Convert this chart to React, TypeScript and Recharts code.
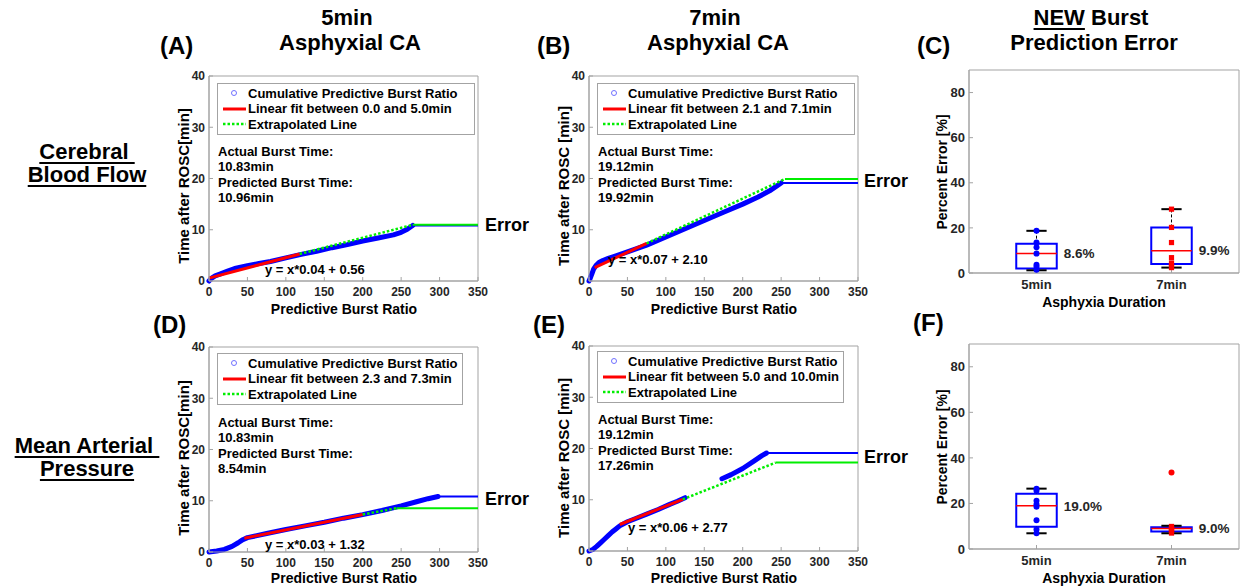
import React from 'react';
import {
  ComposedChart,
  Line,
  Scatter,
  XAxis,
  YAxis,
  ReferenceArea,
  ReferenceLine,
  ReferenceDot,
  Legend,
} from 'recharts';

const FONT = '"Liberation Sans", Arial, Helvetica, sans-serif';
const BLUE = '#0000ff';
const RED = '#ff0000';
const GREEN = '#00ee00';
const FRAME = '#a3a3a3';
const INK = '#262626';

type Pt = { x: number; y: number };
const zip = (xs: number[], ys: number[]): Pt[] => xs.map((x, i) => ({ x, y: ys[i] }));

const RATIO_MAX = 350;
const TIME_MAX = 40;
const ERROR_MAX = 90;
const ratioTicks = [0, 50, 100, 150, 200, 250, 300, 350];
const timeTicks = [0, 10, 20, 30, 40];
const errorTicks = [0, 20, 40, 60, 80];
const durations = ['5min', '7min'];

// (A) Cerebral blood flow, 5 min asphyxia
const aRatio = [0, 3, 8, 15, 25, 35, 50, 65, 80, 100, 120, 140, 160, 180, 200, 220, 240, 250, 258, 265];
const aTime = [0, 0.5, 1.0, 1.4, 2.0, 2.5, 3.0, 3.4, 3.8, 4.5, 5.2, 5.8, 6.5, 7.1, 7.8, 8.4, 9.0, 9.5, 10.1, 10.83];
const aFitRatio = [0, 118];
const aFitTime = [0.56, 5.28];
const aExtRatio = [118, 265];
const aExtTime = [5.28, 10.96];
const aActual = 10.83;
const aPredicted = 10.96;

// (B) Cerebral blood flow, 7 min asphyxia
const bRatio = [0, 2, 4, 6, 9, 13, 18, 25, 35, 50, 75, 100, 125, 150, 175, 200, 220, 235, 245, 250];
const bTime = [0, 0.7, 1.5, 2.3, 3.0, 3.6, 4.0, 4.4, 4.9, 5.7, 7.0, 8.6, 10.2, 11.8, 13.4, 15.0, 16.4, 17.6, 18.6, 19.12];
const bFitRatio = [7.4, 75];
const bFitTime = [2.62, 7.35];
const bExtRatio = [75, 255];
const bExtTime = [7.35, 19.92];
const bActual = 19.12;
const bPredicted = 19.92;

// (D) Mean arterial pressure, 5 min asphyxia
const dRatio = [0, 10, 20, 30, 38, 44, 50, 75, 100, 125, 150, 175, 200, 225, 250, 270, 285, 298];
const dTime = [0, 0.2, 0.5, 1.1, 1.8, 2.4, 2.8, 3.6, 4.4, 5.1, 5.8, 6.6, 7.3, 8.1, 9.0, 9.8, 10.4, 10.83];
const dFitRatio = [46, 200];
const dFitTime = [2.7, 7.32];
const dExtRatio = [200, 244];
const dExtTime = [7.32, 8.54];
const dActual = 10.83;
const dPredicted = 8.54;

// (E) Mean arterial pressure, 7 min asphyxia (two recorded stretches)
const eRatio1 = [0, 5, 10, 15, 20, 25, 30, 35, 40, 50, 60, 75, 90, 105, 115, 125];
const eTime1 = [0, 0.3, 0.9, 1.6, 2.3, 3.0, 3.7, 4.3, 4.9, 5.7, 6.3, 7.2, 8.1, 9.1, 9.7, 10.4];
const eRatio2 = [173, 185, 200, 215, 225, 231];
const eTime2 = [14.1, 14.9, 16.1, 17.6, 18.6, 19.12];
const eFitRatio = [40, 122];
const eFitTime = [5.17, 10.09];
const eExtRatio = [122, 243];
const eExtTime = [10.09, 17.26];
const eActual = 19.12;
const ePredicted = 17.26;

// (C) CBF prediction error, % per animal
const c5Errors = [18.7, 13.5, 11.4, 8.6, 3.7, 2.8, 1.4];
const c7Errors = [28.3, 20.2, 13.5, 6.8, 4.4, 3.4, 2.4];
// box stats: [lower whisker, q1, median, q3, upper whisker]
const c5Box = [1.2, 2.0, 8.6, 13.0, 18.7];
const c7Box = [2.4, 4.0, 9.9, 20.2, 28.3];

// (F) MAP prediction error, % per animal
const f5Errors = [26.5, 25.6, 21.2, 19.7, 18.6, 12.6, 8.6, 6.9];
const f7Errors = [9.9, 9.3, 9.0, 8.3, 7.6, 7.0];
const f7Outliers = [33.6];
const f5Box = [6.9, 9.8, 19.0, 24.3, 26.5];
const f7Box = [6.9, 7.7, 9.0, 9.6, 10.2];

type Rect = { l: number; t: number; r: number; b: number };

const tickStyle = { fill: INK, fontSize: 12, fontWeight: 700, fontFamily: FONT };

function FitLegend({ fitLabel, width }: { fitLabel: string; width: number }) {
  const row: React.CSSProperties = { display: 'flex', alignItems: 'center', height: 15.5, whiteSpace: 'nowrap' };
  return (
    <div
      style={{
        width,
        boxSizing: 'border-box',
        border: `1px solid ${FRAME}`,
        background: '#fff',
        padding: '1.5px 0',
        fontFamily: FONT,
        fontWeight: 700,
        fontSize: 13,
        color: '#000',
        lineHeight: '15px',
      }}
    >
      <div style={row}>
        <svg width={30} height={10} style={{ flex: 'none' }}>
          <circle cx={16} cy={5} r={2.5} fill="none" stroke="#7070ff" strokeWidth={1} />
        </svg>
        <span>Cumulative Predictive Burst Ratio</span>
      </div>
      <div style={row}>
        <svg width={30} height={10} style={{ flex: 'none' }}>
          <line x1={5} x2={28} y1={5} y2={5} stroke={RED} strokeWidth={3} />
        </svg>
        <span>{fitLabel}</span>
      </div>
      <div style={row}>
        <svg width={30} height={10} style={{ flex: 'none' }}>
          <line x1={5} x2={28} y1={5} y2={5} stroke={GREEN} strokeWidth={2.5} strokeDasharray="2.5 2" />
        </svg>
        <span>Extrapolated Line</span>
      </div>
    </div>
  );
}

type RatioPanelProps = {
  rect: Rect;
  segments: Pt[][];
  fit: Pt[];
  ext: Pt[];
  actual: number;
  predicted: number;
  fitLabel: string;
  legendRect: { l: number; t: number; w: number };
};

function RatioPanel({ rect, segments, fit, ext, actual, predicted, fitLabel, legendRect }: RatioPanelProps) {
  const M = { top: 15, right: 15, left: 30, bottom: 5 };
  const YW = 40;
  const XH = 30;
  const plotW = rect.r - rect.l;
  const plotH = rect.b - rect.t;
  const w = M.left + YW + plotW + M.right;
  const h = M.top + plotH + XH + M.bottom;
  const left = rect.l - M.left - YW;
  const top = rect.t - M.top;
  const lastSeg = segments[segments.length - 1];
  const actualFlat = [{ x: lastSeg[lastSeg.length - 1].x, y: actual }, { x: RATIO_MAX, y: actual }];
  const predFlat = [{ x: ext[ext.length - 1].x, y: predicted }, { x: RATIO_MAX, y: predicted }];
  return (
    <div style={{ position: 'absolute', left, top, width: w, height: h }}>
      <ComposedChart width={w} height={h} margin={M}>
        <XAxis
          type="number"
          dataKey="x"
          domain={[0, RATIO_MAX]}
          ticks={ratioTicks}
          interval={0}
          height={XH}
          tickSize={-4}
          tickMargin={10}
          stroke={FRAME}
          tick={tickStyle}
        />
        <YAxis
          type="number"
          dataKey="y"
          domain={[0, TIME_MAX]}
          ticks={timeTicks}
          interval={0}
          width={YW}
          tickSize={-4}
          tickMargin={8}
          stroke={FRAME}
          tick={tickStyle}
        />
        <ReferenceArea x1={0} x2={RATIO_MAX} y1={0} y2={TIME_MAX} fill="none" stroke={FRAME} strokeWidth={1} />
        {segments.map((seg, i) => (
          <Line
            key={`seg${i}`}
            data={seg}
            dataKey="y"
            type="linear"
            stroke={BLUE}
            strokeWidth={5}
            strokeLinecap="round"
            strokeLinejoin="round"
            dot={false}
            activeDot={false}
            isAnimationActive={false}
          />
        ))}
        <Line data={actualFlat} dataKey="y" type="linear" stroke={BLUE} strokeWidth={2} dot={false} activeDot={false} isAnimationActive={false} />
        <Line data={predFlat} dataKey="y" type="linear" stroke={GREEN} strokeWidth={2} dot={false} activeDot={false} isAnimationActive={false} />
        <Line data={fit} dataKey="y" type="linear" stroke={RED} strokeWidth={3} dot={false} activeDot={false} isAnimationActive={false} />
        <Line
          data={ext}
          dataKey="y"
          type="linear"
          stroke={GREEN}
          strokeWidth={2.5}
          strokeDasharray="2.5 2"
          dot={false}
          activeDot={false}
          isAnimationActive={false}
        />
        <Legend
          layout="horizontal"
          align="center"
          verticalAlign="middle"
          wrapperStyle={{ left: legendRect.l - left, top: legendRect.t - top, width: legendRect.w, height: 'auto' }}
          content={() => <FitLegend fitLabel={fitLabel} width={legendRect.w} />}
        />
      </ComposedChart>
    </div>
  );
}

type ErrorPanelProps = {
  rect: Rect;
  boxes: number[][];
  errors: number[][];
  outliers: number[][];
};

const BOX_HALF = 0.15;
const CAP_HALF = 0.075;

function ErrorPanel({ rect, boxes, errors, outliers }: ErrorPanelProps) {
  const M = { top: 15, right: 10, left: 30, bottom: 5 };
  const YW = 40;
  const XH = 30;
  const plotW = rect.r - rect.l;
  const plotH = rect.b - rect.t;
  const w = M.left + YW + plotW + M.right;
  const h = M.top + plotH + XH + M.bottom;
  const left = rect.l - M.left - YW;
  const top = rect.t - M.top;
  const errTick = { ...tickStyle, fontSize: 13 };

  const parts: React.ReactNode[] = [];
  boxes.forEach((bx, i) => {
    const c = i + 1;
    const [lo, q1, med, q3, hi] = bx;
    parts.push(
      <ReferenceLine key={`wu${i}`} segment={[{ x: c, y: q3 }, { x: c, y: hi }]} stroke="#000" strokeWidth={1} strokeDasharray="3 2" />,
      <ReferenceLine key={`wl${i}`} segment={[{ x: c, y: lo }, { x: c, y: q1 }]} stroke="#000" strokeWidth={1} strokeDasharray="3 2" />,
      <ReferenceLine key={`cu${i}`} segment={[{ x: c - CAP_HALF, y: hi }, { x: c + CAP_HALF, y: hi }]} stroke="#000" strokeWidth={2} />,
      <ReferenceLine key={`cl${i}`} segment={[{ x: c - CAP_HALF, y: lo }, { x: c + CAP_HALF, y: lo }]} stroke="#000" strokeWidth={2} />,
      <ReferenceArea key={`bx${i}`} x1={c - BOX_HALF} x2={c + BOX_HALF} y1={q1} y2={q3} fill="none" fillOpacity={0} stroke={BLUE} strokeWidth={2} />,
      <ReferenceLine key={`md${i}`} segment={[{ x: c - BOX_HALF, y: med }, { x: c + BOX_HALF, y: med }]} stroke={RED} strokeWidth={1.5} />,
    );
  });

  const blueDot = (p: any) => <circle cx={p.cx} cy={p.cy} r={3} fill={BLUE} />;
  const redSquare = (p: any) => <rect x={p.cx - 2.6} y={p.cy - 2.6} width={5.2} height={5.2} fill={RED} />;
  const redDot = (p: any) => <circle cx={p.cx} cy={p.cy} r={3} fill={RED} />;

  return (
    <div style={{ position: 'absolute', left, top, width: w, height: h }}>
      <ComposedChart width={w} height={h} margin={M}>
        <XAxis
          type="number"
          dataKey="x"
          domain={[0.5, 2.5]}
          ticks={[1, 2]}
          interval={0}
          tickFormatter={(v: number) => durations[v - 1]}
          height={XH}
          tickSize={-4}
          tickMargin={11}
          stroke={FRAME}
          tick={errTick}
        />
        <YAxis
          type="number"
          dataKey="y"
          domain={[0, ERROR_MAX]}
          ticks={errorTicks}
          interval={0}
          width={YW}
          tickSize={-4}
          tickMargin={8}
          stroke={FRAME}
          tick={errTick}
        />
        <ReferenceArea x1={0.5} x2={2.5} y1={0} y2={ERROR_MAX} fill="none" fillOpacity={0} stroke={FRAME} strokeWidth={1} />
        {parts}
        <Scatter data={errors[0].map((y) => ({ x: 1, y }))} shape={blueDot} isAnimationActive={false} />
        <Scatter data={errors[1].map((y) => ({ x: 2, y }))} shape={redSquare} isAnimationActive={false} />
        {outliers[1].length > 0 && (
          <Scatter data={outliers[1].map((y) => ({ x: 2, y }))} shape={redDot} isAnimationActive={false} />
        )}
        {boxes.map((bx, i) => (
          <ReferenceDot
            key={`lab${i}`}
            x={i + 1 + BOX_HALF}
            y={bx[2]}
            r={0}
            stroke="none"
            fill="none"
            label={{
              value: `${bx[2].toFixed(1)}%`,
              position: 'right',
              offset: 7,
              fill: INK,
              fontSize: 13.5,
              fontWeight: 700,
              fontFamily: FONT,
            }}
          />
        ))}
      </ComposedChart>
    </div>
  );
}

type TextProps = {
  x: number;
  y: number;
  size: number;
  children: React.ReactNode;
  align?: 'center' | 'left';
  rotate?: boolean;
  underline?: boolean;
  color?: string;
};

function Txt({ x, y, size, children, align = 'center', rotate = false, underline = false, color = '#000' }: TextProps) {
  const tf = rotate
    ? 'translate(-50%, -50%) rotate(-90deg)'
    : align === 'center'
      ? 'translate(-50%, -50%)'
      : 'translateY(-50%)';
  return (
    <div
      style={{
        position: 'absolute',
        left: x,
        top: y,
        transform: tf,
        whiteSpace: 'pre',
        fontFamily: FONT,
        fontWeight: 700,
        fontSize: size,
        lineHeight: 1,
        color,
        textDecoration: underline ? 'underline' : 'none',
        textDecorationThickness: underline ? 2 : undefined,
        textUnderlineOffset: underline ? 3 : undefined,
      }}
    >
      {children}
    </div>
  );
}

function BurstNote({ x, y, actual, predicted }: { x: number; y: number; actual: number; predicted: number }) {
  const lines = ['Actual Burst Time:', `${actual.toFixed(2)}min`, 'Predicted Burst Time:', `${predicted.toFixed(2)}min`];
  return (
    <>
      {lines.map((s, i) => (
        <Txt key={i} x={x} y={y + i * 15.4} size={13} align="left">
          {s}
        </Txt>
      ))}
    </>
  );
}

const rectA: Rect = { l: 209, t: 76, r: 478, b: 281 };
const rectB: Rect = { l: 589, t: 76, r: 858, b: 281 };
const rectD: Rect = { l: 209, t: 347, r: 478, b: 552 };
const rectE: Rect = { l: 589, t: 346, r: 858, b: 551 };
const rectC: Rect = { l: 969, t: 70, r: 1239, b: 273 };
const rectF: Rect = { l: 969, t: 344, r: 1239, b: 549 };

export default function App() {
  return (
    <div
      style={{
        position: 'absolute',
        left: 0,
        top: 0,
        width: 1241,
        height: 588,
        background: '#fff',
        overflow: 'hidden',
        fontFamily: FONT,
      }}
    >
      <RatioPanel
        rect={rectA}
        segments={[zip(aRatio, aTime)]}
        fit={zip(aFitRatio, aFitTime)}
        ext={zip(aExtRatio, aExtTime)}
        actual={aActual}
        predicted={aPredicted}
        fitLabel="Linear fit between 0.0 and 5.0min"
        legendRect={{ l: 217, t: 83, w: 258 }}
      />
      <RatioPanel
        rect={rectB}
        segments={[zip(bRatio, bTime)]}
        fit={zip(bFitRatio, bFitTime)}
        ext={zip(bExtRatio, bExtTime)}
        actual={bActual}
        predicted={bPredicted}
        fitLabel="Linear fit between 2.1 and 7.1min"
        legendRect={{ l: 597, t: 83, w: 258 }}
      />
      <RatioPanel
        rect={rectD}
        segments={[zip(dRatio, dTime)]}
        fit={zip(dFitRatio, dFitTime)}
        ext={zip(dExtRatio, dExtTime)}
        actual={dActual}
        predicted={dPredicted}
        fitLabel="Linear fit between 2.3 and 7.3min"
        legendRect={{ l: 217, t: 353, w: 246 }}
      />
      <RatioPanel
        rect={rectE}
        segments={[zip(eRatio1, eTime1), zip(eRatio2, eTime2)]}
        fit={zip(eFitRatio, eFitTime)}
        ext={zip(eExtRatio, eExtTime)}
        actual={eActual}
        predicted={ePredicted}
        fitLabel="Linear fit between 5.0 and 10.0min"
        legendRect={{ l: 597, t: 351, w: 247 }}
      />
      <ErrorPanel rect={rectC} boxes={[c5Box, c7Box]} errors={[c5Errors, c7Errors]} outliers={[[], []]} />
      <ErrorPanel rect={rectF} boxes={[f5Box, f7Box]} errors={[f5Errors, f7Errors]} outliers={[[], f7Outliers]} />

      {/* column titles */}
      <Txt x={347} y={18} size={22}>5min</Txt>
      <Txt x={350} y={43} size={22}>Asphyxial CA</Txt>
      <Txt x={715} y={18} size={22}>7min</Txt>
      <Txt x={718} y={43} size={22}>Asphyxial CA</Txt>
      <Txt x={1091} y={18} size={22}>
        <span style={{ textDecoration: 'underline', textDecorationThickness: 2, textUnderlineOffset: 3 }}>NEW</span> Burst
      </Txt>
      <Txt x={1094} y={43} size={22}>Prediction Error</Txt>

      {/* panel letters */}
      <Txt x={160} y={46} size={24} align="left">(A)</Txt>
      <Txt x={537} y={46} size={24} align="left">(B)</Txt>
      <Txt x={917} y={46} size={24} align="left">(C)</Txt>
      <Txt x={153} y={325} size={24} align="left">(D)</Txt>
      <Txt x={533} y={325} size={24} align="left">(E)</Txt>
      <Txt x={913} y={323} size={24} align="left">(F)</Txt>

      {/* row labels */}
      <Txt x={87} y={152} size={22} underline>{'Cerebral '}</Txt>
      <Txt x={87} y={175} size={22} underline>Blood Flow</Txt>
      <Txt x={87} y={446} size={22} underline>{'Mean Arterial '}</Txt>
      <Txt x={87} y={469} size={22} underline>Pressure</Txt>

      {/* axis titles */}
      <Txt x={344} y={309} size={14}>Predictive Burst Ratio</Txt>
      <Txt x={724} y={309} size={14}>Predictive Burst Ratio</Txt>
      <Txt x={344} y={578} size={14}>Predictive Burst Ratio</Txt>
      <Txt x={724} y={578} size={14}>Predictive Burst Ratio</Txt>
      <Txt x={183} y={186} size={15} rotate>Time after ROSC[min]</Txt>
      <Txt x={563} y={186} size={15} rotate>Time after ROSC [min]</Txt>
      <Txt x={183} y={458} size={15} rotate>Time after ROSC[min]</Txt>
      <Txt x={563} y={458} size={15} rotate>Time after ROSC [min]</Txt>
      <Txt x={942} y={172} size={14} rotate>Percent Error [%]</Txt>
      <Txt x={942} y={447} size={14} rotate>Percent Error [%]</Txt>
      <Txt x={1104} y={302} size={14}>Asphyxia Duration</Txt>
      <Txt x={1104} y={578} size={14}>Asphyxia Duration</Txt>

      {/* burst-time notes */}
      <BurstNote x={218} y={151} actual={aActual} predicted={aPredicted} />
      <BurstNote x={598} y={151} actual={bActual} predicted={bPredicted} />
      <BurstNote x={218} y={422} actual={dActual} predicted={dPredicted} />
      <BurstNote x={598} y={419} actual={eActual} predicted={ePredicted} />

      {/* fitted equations */}
      <Txt x={265} y={269} size={13} align="left">y = x*0.04 + 0.56</Txt>
      <Txt x={608} y={259} size={13} align="left">y = x*0.07 + 2.10</Txt>
      <Txt x={265} y={544} size={13} align="left">y = x*0.03 + 1.32</Txt>
      <Txt x={628} y={527} size={13} align="left">y = x*0.06 + 2.77</Txt>

      {/* error markers */}
      <Txt x={485} y={225} size={18} align="left">Error</Txt>
      <Txt x={864} y={181} size={18} align="left">Error</Txt>
      <Txt x={485} y={499} size={18} align="left">Error</Txt>
      <Txt x={864} y={457} size={18} align="left">Error</Txt>
    </div>
  );
}
